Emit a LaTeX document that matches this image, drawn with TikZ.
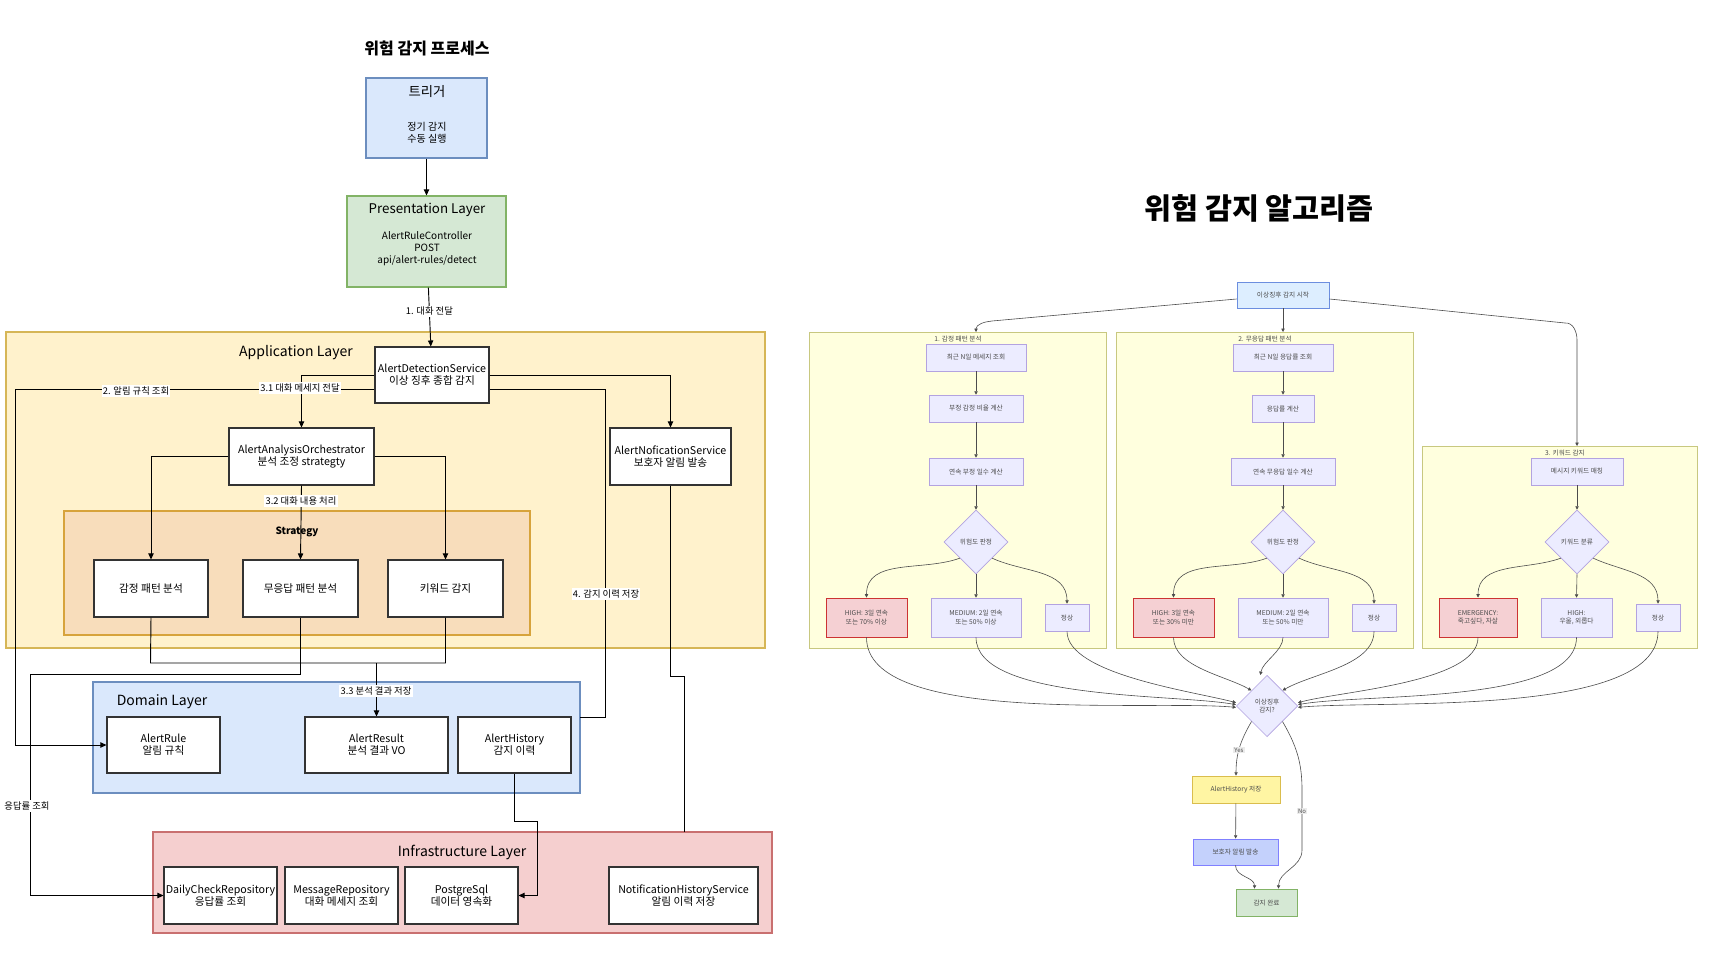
\documentclass[tikz,border=0pt]{standalone}
\usepackage{fontspec}
\setmainfont{Noto Sans CJK KR}
\usetikzlibrary{shapes.geometric,arrows.meta}
\definecolor{trigF}{HTML}{DAE8FC}\definecolor{trigD}{HTML}{6C8EBF}
\definecolor{presF}{HTML}{D5E8D4}\definecolor{presD}{HTML}{82B366}
\definecolor{appF}{HTML}{FFF2CC}\definecolor{appD}{HTML}{D6B656}
\definecolor{strF}{HTML}{F8DDBB}\definecolor{strD}{HTML}{D7A33B}
\definecolor{infF}{HTML}{F5CFCF}\definecolor{infD}{HTML}{C97070}
\definecolor{mF}{HTML}{ECECFF}\definecolor{mD}{HTML}{B3A3E0}
\definecolor{gF}{HTML}{FFFFDE}\definecolor{gD}{HTML}{C8C880}
\definecolor{rF}{HTML}{F5D0D3}\definecolor{rD}{HTML}{CC3333}
\definecolor{stF}{HTML}{DDEEFF}\definecolor{stD}{HTML}{6C8EDF}
\newcommand\bx[7]{\pgfmathsetmacro\bxcx{(#2+#4)/2}\pgfmathsetmacro\bxcy{(#3+#5)/2}%
\pgfmathsetmacro\bxw{(#4-#2)*0.75}\pgfmathsetmacro\bxh{(#5-#3)*0.75}%
\node[#6,minimum width=\bxw pt,minimum height=\bxh pt] (#1) at (\bxcx,\bxcy) {#7};}
\begin{document}
\begin{tikzpicture}[x=0.75pt,y=-0.75pt,
  every node/.style={inner sep=0pt,align=center},
  lay/.style={draw=#1,line width=0.8pt},
  lbox/.style={draw=black!80,fill=white,line width=0.8pt,font=\fontsize{8}{9}\selectfont},
  lab/.style={fill=white,inner sep=1pt,font=\fontsize{7}{8}\selectfont},
  la/.style={draw=black,line width=0.7pt},
  arr/.style={la,-{Triangle[length=4.5pt,width=4pt]}},
  mn/.style={draw=mD,fill=mF,line width=0.5pt,text=black!70,font=\fontsize{5}{6}\selectfont},
  rn/.style={draw=rD,fill=rF,line width=0.7pt,text=black!70,font=\fontsize{5}{6}\selectfont},
  grp/.style={draw=gD,fill=gF,line width=0.5pt},
  gl/.style={text=black!70,font=\fontsize{5}{6}\selectfont},
  md/.style={diamond,draw=mD,fill=mF,line width=0.5pt,text=black!70,font=\fontsize{5}{6}\selectfont,minimum width=48pt,minimum height=48pt},
  ra/.style={draw=black!70,line width=0.45pt,-{Triangle[length=2.5pt,width=2.5pt]}},
  rl/.style={fill=black!8,inner sep=0.8pt,text=black!70,font=\fontsize{4.5}{5}\selectfont}]
\useasboundingbox (0,0) rectangle (1723,963);
\fill[white] (0,0) rectangle (1723,963);
% ===== left side =====
\node[font=\bfseries\fontsize{12}{14}\selectfont] (t1) at (427,48) {위험 감지 프로세스};
\bx{trig}{366}{78}{487}{158}{draw=trigD,fill=trigF,line width=0.8pt}{}
\node[font=\fontsize{10}{12}\selectfont] (trigT) at (427,92) {트리거};
\node[font=\fontsize{7.5}{9}\selectfont] (trigB) at (427,133) {정기 감지\\수동 실행};
\bx{pres}{347}{196}{506}{287}{draw=presD,fill=presF,line width=0.8pt}{}
\node[font=\fontsize{10}{12}\selectfont] (presT) at (427,210) {Presentation Layer};
\node[font=\fontsize{7.5}{9}\selectfont] (presB) at (427,249) {AlertRuleController\\POST\\api/alert-rules/detect};
\bx{app}{6}{332}{765}{648}{lay=appD,fill=appF}{}
\node[font=\fontsize{10.5}{12}\selectfont] (appL) at (296,353) {Application Layer};
\bx{str}{64}{511}{530}{635}{lay=strD,fill=strF}{}
\node[font=\bfseries\fontsize{7.5}{9}\selectfont] (strL) at (297,532) {Strategy};
\bx{dom}{93}{682}{580}{793}{lay=trigD,fill=trigF}{}
\node[font=\fontsize{10.5}{12}\selectfont] (domL) at (162,702) {Domain Layer};
\bx{inf}{153}{832}{772}{933}{lay=infD,fill=infF}{}
\node[font=\fontsize{10.5}{12}\selectfont] (infL) at (462,852) {Infrastructure Layer};
\bx{ads}{375}{347}{489}{403}{lbox}{AlertDetectionService\\이상 징후 종합 감지}
\bx{orch}{229}{428}{374}{485}{lbox}{AlertAnalysisOrchestrator\\분석 조정 strategty}
\bx{notif}{610}{428}{731}{485}{lbox}{AlertNoficationService\\보호자 알림 발송}
\bx{s1}{94}{560}{208}{617}{lbox}{감정 패턴 분석}
\bx{s2}{243}{560}{358}{617}{lbox}{무응답 패턴 분석}
\bx{s3}{388}{560}{503}{617}{lbox}{키워드 감지}
\bx{rule}{107}{717}{220}{773}{lbox}{AlertRule\\알림 규칙}
\bx{res}{305}{717}{448}{773}{lbox}{AlertResult\\분석 결과 VO}
\bx{hist}{458}{717}{571}{773}{lbox}{AlertHistory\\감지 이력}
\bx{daily}{164}{867}{277}{924}{lbox}{DailyCheckRepository\\응답률 조회}
\bx{msg}{285}{867}{398}{924}{lbox}{MessageRepository\\대화 메세지 조회}
\bx{pg}{405}{867}{518}{924}{lbox}{PostgreSql\\데이터 영속화}
\bx{nhs}{609}{867}{758}{924}{lbox}{NotificationHistoryService\\알림 이력 저장}
\coordinate (m33) at (376.5,663);
\draw[arr] (trig) -- (pres);
\draw[arr] (pres) -- node[lab,pos=0.4]{1. 대화 전달} (ads);
\draw[arr] ([yshift=-10.5pt]ads.west) -- (15,389) -- (15,745) -- (rule.west);
\node[lab] (l2) at (136,391) {2. 알림 규칙 조회};
\draw[arr] (ads.west) -| (orch.north);
\node[lab] (l31) at (300,388) {3.1 대화 메세지 전달};
\draw[arr] (ads.east) -| (notif.north);
\draw[la] ([yshift=-10.5pt]ads.east) -- (605,389) -- (605,717) -- (580,717);
\node[lab] (l4) at (606,594) {4. 감지 이력 저장};
\draw[arr] (orch.west) -| (s1.north);
\draw[arr] (orch.east) -| (s3.north);
\draw[arr] (orch.south) -- (s2.north);
\node[lab] (l32) at (301,501) {3.2 대화 내용 처리};
\draw[la] (s1.south) -- (150.5,663) -- (445.5,663) -- (s3.south);
\draw[arr] (m33) -- (res.north);
\node[lab] (l33) at (376,691) {3.3 분석 결과 저장};
\draw[arr] (s2.south) -- (300.5,674) -- (30,674) -- (30,895.5) -- (daily.west);
\node[lab] (lr) at (27,806) {응답률 조회};
\draw[arr] (hist.south) -- (514.5,821) -- (537,821) -- (537,895.5) -- (pg.east);
\draw[la] (notif.south) -- (670.5,676) -- (684,676) -- (684,832);
% ===== right side =====
\node[font=\bfseries\fontsize{22}{26}\selectfont] (t2) at (1259,208) {위험 감지 알고리즘};
\bx{g1}{809}{332}{1106}{648}{grp}{}
\bx{g2}{1116}{332}{1413}{648}{grp}{}
\bx{g3}{1422}{446}{1697}{648}{grp}{}
\node[gl] (g1l) at (958,339) {1. 감정 패턴 분석};
\node[gl] (g2l) at (1265,339) {2. 무응답 패턴 분석};
\node[gl] (g3l) at (1565,453) {3. 키워드 감지};
\bx{st}{1237}{282}{1329}{308}{draw=stD,fill=stF,line width=0.7pt,text=black!70,font=\fontsize{5}{6}\selectfont}{이상징후 감지 시작}
% group 1
\bx{a1}{926}{344}{1026}{371}{mn}{최근 N일 메세지 조회}
\bx{a2}{929}{395}{1023}{422}{mn}{부정 감정 비율 계산}
\bx{a3}{929}{458}{1023}{485}{mn}{연속 부정 일수 계산}
\node[md] (ad) at (976,542) {위험도 판정};
\bx{ah}{826}{598}{907}{637}{rn}{HIGH: 3일 연속\\또는 70\% 이상}
\bx{am}{931}{598}{1021}{637}{mn}{MEDIUM: 2일 연속\\또는 50\% 이상}
\bx{an}{1045}{604}{1089}{631}{mn}{정상}
% group 2
\bx{b1}{1233}{344}{1333}{371}{mn}{최근 N일 응답률 조회}
\bx{b2}{1252}{395}{1314}{422}{mn}{응답률 계산}
\bx{b3}{1231}{458}{1335}{485}{mn}{연속 무응답 일수 계산}
\node[md] (bd) at (1283,542) {위험도 판정};
\bx{bh}{1133}{598}{1214}{637}{rn}{HIGH: 3일 연속\\또는 30\% 미만}
\bx{bm}{1238}{598}{1328}{637}{mn}{MEDIUM: 2일 연속\\또는 50\% 미만}
\bx{bn}{1352}{604}{1396}{631}{mn}{정상}
% group 3
\bx{c1}{1531}{458}{1623}{485}{mn}{메시지 키워드 매칭}
\node[md] (cd) at (1577,542) {키워드 분류};
\bx{ch}{1439}{598}{1517}{637}{rn}{EMERGENCY:\\죽고싶다, 자살}
\bx{cm}{1541}{598}{1612}{637}{mn}{HIGH:\\우울, 외롭다}
\bx{cn}{1636}{604}{1680}{631}{mn}{정상}
% bottom
\node[md,minimum width=46pt,minimum height=46pt] (dd) at (1267,706) {이상징후\\감지?};
\bx{sv}{1192}{776}{1280}{803}{draw=appD!90!yellow,fill=appF!80!yellow,line width=0.6pt,text=black!70,font=\fontsize{5}{6}\selectfont}{AlertHistory 저장}
\bx{nt}{1193}{839}{1278}{865}{draw=blue!50,fill=trigF!90!blue,line width=0.6pt,text=black!70,font=\fontsize{5}{6}\selectfont}{보호자 알림 발송}
\bx{dn}{1236}{889}{1297}{916}{draw=presD,fill=presF,line width=0.6pt,text=black!70,font=\fontsize{5}{6}\selectfont}{감지 완료}
% right edges
\draw[ra] ([yshift=-3pt]st.west) -- (992,321) to[out=185,in=90] (976,332);
\draw[ra] (st.south) -- (1283,332);
\draw[ra] ([yshift=-3pt]st.east) -- (1565,323) to[out=5,in=90] (1577,340) -- (1577,446);
\draw[ra] (a1) -- (a2); \draw[ra] (a2) -- (a3); \draw[ra] (a3) -- (ad);
\draw[ra] (b1) -- (b2); \draw[ra] (b2) -- (b3); \draw[ra] (b3) -- (bd);
\draw[ra] (c1) -- (cd);
\foreach \d/\h/\m/\n in {ad/ah/am/an,bd/bh/bm/bn,cd/ch/cm/cn}{
  \draw[ra] (\d.south west) to[out=200,in=90] (\h.north);
  \draw[ra] (\d.south) -- (\m.north);
  \draw[ra] (\d.south east) to[out=-25,in=90] (\n.north);
}
\draw[ra] (ah.south) to[out=-90,in=175,looseness=0.6] ([yshift=-1pt]dd.west);
\draw[ra] (am.south) to[out=-90,in=170,looseness=0.6] ([yshift=1pt]dd.west);
\draw[ra] (an.south) to[out=-90,in=165,looseness=0.6] ([yshift=2.5pt]dd.west);
\draw[ra] (bh.south) to[out=-90,in=150,looseness=0.8] (dd.north west);
\draw[ra] (bm.south) to[out=-90,in=80,looseness=0.8] ([xshift=-5pt]dd.north);
\draw[ra] (bn.south) to[out=-90,in=30,looseness=0.8] (dd.north east);
\draw[ra] (ch.south) to[out=-90,in=15,looseness=0.6] ([yshift=2.5pt]dd.east);
\draw[ra] (cm.south) to[out=-90,in=10,looseness=0.6] ([yshift=1pt]dd.east);
\draw[ra] (cn.south) to[out=-90,in=5,looseness=0.6] ([yshift=-1pt]dd.east);
\draw[ra] (dd.south west) to[out=-120,in=90] node[rl,pos=0.55]{Yes} (sv.north);
\draw[ra] (sv) -- (nt);
\draw[ra] (nt.south) to[out=-90,in=90] ([xshift=-9pt]dn.north);
\draw[ra] (dd.south east) to[out=-60,in=90] (1302,790) -- node[rl,pos=0.35]{No} (1302,850) to[out=-90,in=90] ([xshift=9pt]dn.north);
\end{tikzpicture}
\end{document}
